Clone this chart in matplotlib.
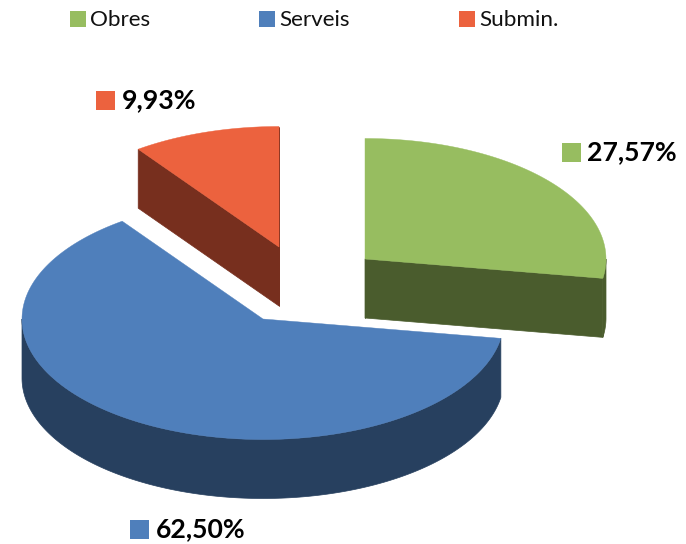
import numpy as np
import matplotlib
matplotlib.use('Agg')
import matplotlib.pyplot as plt
from matplotlib.patches import Polygon, Rectangle

# pie values, clockwise from 12 o'clock
categories = ['Obres', 'Serveis', 'Submin.']
values = [27.57, 62.50, 9.93]
value_labels = ['27,57%', '62,50%', '9,93%']

top_colors = ['#97BD60', '#4F7FBB', '#EC623E']
side_colors = ['#4A5C2D', '#27405F', '#772F1E']

# apex of each slice in pixels (exploded), ellipse radii and depth
apex = [(365, 259), (263, 319), (279, 247)]
rx, ry, depth = 241, 120.5, 59

plt.rcParams['font.family'] = ['Lato', 'DejaVu Sans']

fig = plt.figure(figsize=(6.86, 5.44), dpi=100)
ax = fig.add_axes([0, 0, 1, 1])
ax.set_xlim(0, 686)
ax.set_ylim(544, 0)
ax.axis('off')


def rim(cx, cy, a0, a1):
    t = np.radians(np.linspace(a0, a1, 200))
    return np.column_stack([cx + rx * np.cos(t), cy - ry * np.sin(t)])


def side(cx, cy, a0, a1, color, z):
    # curved outer wall between two angles
    pts = rim(cx, cy, a0, a1)
    low = pts[::-1] + [0, depth]
    ax.add_patch(Polygon(np.vstack([pts, low]), fc=color, ec=color, lw=0.5, zorder=z))


def cut(cx, cy, a, color, z):
    # flat cut face from the apex out to the rim
    p = rim(cx, cy, a, a)[0]
    q = [[cx, cy], p, p + [0, depth], [cx, cy + depth]]
    ax.add_patch(Polygon(q, fc=color, ec=color, lw=0.5, zorder=z))


start = 90
angles = []
for v in values:
    angles.append((start, start - v * 3.6))
    start -= v * 3.6

# back slices first, blue last so it sits in front
order = [2, 0, 1]
for n, i in enumerate(order):
    a0, a1 = angles[i]
    (cx, cy) = apex[i]
    z = n * 3 + 1
    if i == 0:
        side(cx, cy, a1, 0, side_colors[i], z)
        cut(cx, cy, a1, side_colors[i], z)
        cut(cx, cy, a0, side_colors[i], z)
    elif i == 1:
        side(cx, cy, a0, -180, side_colors[i], z)
    else:
        cut(cx, cy, a1, side_colors[i], z)
        cut(cx, cy, a0, side_colors[i], z)
    top = np.vstack([[cx, cy], rim(cx, cy, a0, a1)])
    ax.add_patch(Polygon(top, fc=top_colors[i], ec=top_colors[i], lw=0.3, zorder=z + 1))

# legend on top
legend_x = [70, 259, 459]
for x, name, c in zip(legend_x, categories, top_colors):
    ax.add_patch(Rectangle((x, 11), 16, 16, fc=c, ec='none'))
    ax.text(x + 20, 19.5, name, fontsize=16.2, va='center', ha='left', color='#111111')

# value labels with colour key
label_pos = [(562, 143), (130, 520), (96, 91)]
for (x, y), txt, c in zip(label_pos, value_labels, top_colors):
    ax.add_patch(Rectangle((x, y), 19, 19, fc=c, ec='none'))
    ax.text(x + 25.5, y + 9.5, txt, fontsize=19.2, fontweight='bold', va='center', ha='left', color='black')

fig.savefig('out.png', dpi=100)
